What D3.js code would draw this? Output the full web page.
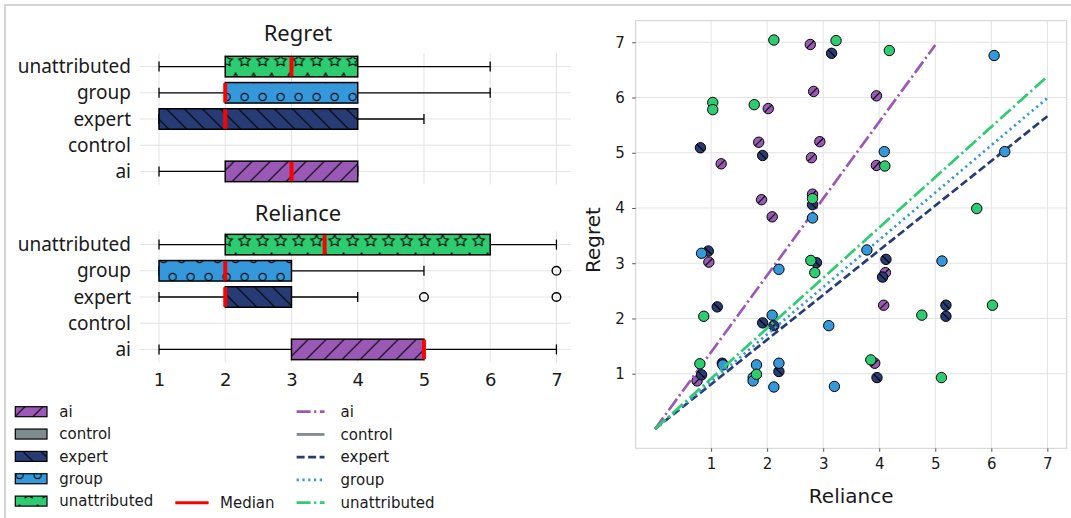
<!DOCTYPE html>
<html>
<head>
<meta charset="utf-8">
<script src="https://cdn.jsdelivr.net/npm/d3@7"></script>
<style>
body { margin: 0; background: #ffffff; }
svg { display: block; }
</style>
</head>
<body>
<script>
// ---------------- DATA ----------------
const categories = ["ai", "control", "expert", "group", "unattributed"];
const rowOrder = ["unattributed", "group", "expert", "control", "ai"];
const colors = ["#9b59b6", "#7f8c8d", "#273c75", "#3498db", "#2ecc71"];
const hatches = ["fwd", "none", "back", "circle", "star"];
const xTicks = [1, 2, 3, 4, 5, 6, 7];
const yTicks = [1, 2, 3, 4, 5, 6, 7];

// Regret box stats (ai, control, expert, group, unattributed)
const regretLow = [1, null, 1, 1, 1];
const regretQ1 = [2, null, 1, 2, 2];
const regretMedian = [3, null, 2, 2, 3];
const regretQ3 = [4, null, 4, 4, 4];
const regretHigh = [4, null, 5, 6, 6];
const regretOutliers = [[], [], [], [], []];

// Reliance box stats
const relianceLow = [1, null, 1, 1, 1];
const relianceQ1 = [3, null, 2, 1, 2];
const relianceMedian = [5, null, 2, 2, 3.5];
const relianceQ3 = [5, null, 3, 3, 6];
const relianceHigh = [7, null, 4, 5, 7];
const relianceOutliers = [[], [], [5, 7], [7], []];

// Scatter (jittered) points
const aiReliance = [2.77, 2.83, 2.02, 1.85, 2.94, 2.79, 1.18, 1.90, 2.81, 2.09, 3.95, 3.95, 0.96, 0.75, 4.11, 4.08, 3.92];
const aiRegret   = [6.96, 6.11, 5.80, 5.19, 5.20, 4.91, 4.80, 4.15, 4.25, 3.84, 6.03, 4.77, 3.02, 0.87, 2.83, 2.24, 1.19];
const controlReliance = [];
const controlRegret = [];
const expertReliance = [3.15, 0.81, 1.92, 2.81, 0.95, 2.88, 1.11, 1.92, 2.12, 1.20, 0.83, 2.21, 4.12, 4.06, 5.19, 5.19, 3.96];
const expertRegret   = [6.80, 5.09, 4.95, 4.06, 3.22, 3.01, 2.21, 1.92, 1.87, 1.19, 0.98, 1.04, 3.07, 2.75, 2.24, 2.04, 0.93];
const groupReliance = [2.81, 6.05, 4.09, 6.24, 0.83, 2.21, 2.09, 3.10, 1.21, 1.81, 1.75, 1.75, 2.21, 2.12, 3.20, 3.78, 5.12];
const groupRegret   = [3.82, 6.76, 5.02, 5.02, 3.18, 2.89, 2.06, 1.87, 1.16, 1.16, 0.93, 0.87, 1.19, 0.76, 0.77, 3.24, 3.04];
const unattributedReliance = [2.12, 3.23, 1.03, 1.03, 1.77, 2.81, 4.18, 4.10, 5.74, 2.78, 2.85, 0.87, 0.80, 1.81, 4.76, 6.02, 3.85, 5.11];
const unattributedRegret   = [7.04, 7.03, 5.91, 5.78, 5.87, 4.17, 6.85, 4.76, 3.99, 3.05, 2.83, 2.04, 1.18, 0.99, 2.06, 2.24, 1.25, 0.93];

// Fitted lines through origin: end points
const lineEndX = [5, null, 7, 7, 7];
const lineEndY = [6.95, null, 5.66, 5.99, 6.38];
const lineDash = ["14,3.5,2.2,3.5", null, "8,3.5", "2.2,3.6", "14,3.5,2.2,3.5"];

const scatterX = [aiReliance, controlReliance, expertReliance, groupReliance, unattributedReliance];
const scatterY = [aiRegret, controlRegret, expertRegret, groupRegret, unattributedRegret];

// ---------------- SETUP ----------------
const W = 1071, H = 518;
const svg = d3.select("body").append("svg").attr("width", W).attr("height", H);
const TXT = "#1a1a1a";
const GRID = "#e3e3e3";
const LBLFONT = "'Noto Sans', 'Open Sans', sans-serif";
const NUMFONT = "'DejaVu Sans', sans-serif";

// Hatch patterns (aligned to page, like matplotlib)
const defs = svg.append("defs");
const S = 18;
const px0 = 10.6, py0 = 25;
defs.append("pattern").attr("id", "hatch-fwd").attr("patternUnits", "userSpaceOnUse")
  .attr("width", S).attr("height", S).attr("x", px0).attr("y", py0)
  .append("path").attr("d", `M0,${S} L${S},0 M-3,3 L3,-3 M${S-3},${S+3} L${S+3},${S-3}`)
  .attr("stroke", "#000").attr("stroke-width", 1.1);
defs.append("pattern").attr("id", "hatch-back").attr("patternUnits", "userSpaceOnUse")
  .attr("width", S).attr("height", S).attr("x", px0).attr("y", py0)
  .append("path").attr("d", `M0,0 L${S},${S} M-3,${S-3} L3,${S+3} M${S-3},-3 L${S+3},3`)
  .attr("stroke", "#000").attr("stroke-width", 1.1);
const pc = defs.append("pattern").attr("id", "hatch-circle").attr("patternUnits", "userSpaceOnUse")
  .attr("width", S).attr("height", 2 * S).attr("x", px0).attr("y", py0);
[[0, 0], [S, 0], [0, 2 * S], [S, 2 * S], [S / 2, S]].forEach(([cx, cy]) => {
  pc.append("circle").attr("cx", cx).attr("cy", cy).attr("r", 3.6)
    .attr("fill", "none").attr("stroke", "#000").attr("stroke-width", 1.1);
});
function starPath(cx, cy, R, r) {
  const pts = [];
  for (let i = 0; i < 10; i++) {
    const rad = i % 2 === 0 ? R : r;
    const a = -Math.PI / 2 + i * Math.PI / 5;
    pts.push([cx + rad * Math.cos(a), cy + rad * Math.sin(a)]);
  }
  return "M" + pts.map(p => p[0].toFixed(2) + "," + p[1].toFixed(2)).join("L") + "Z";
}
const ps = defs.append("pattern").attr("id", "hatch-star").attr("patternUnits", "userSpaceOnUse")
  .attr("width", S).attr("height", 2 * S).attr("x", px0).attr("y", py0);
[[0, 0], [S, 0], [0, 2 * S], [S, 2 * S], [S / 2, S]].forEach(([cx, cy]) => {
  ps.append("path").attr("d", starPath(cx, cy, 6, 3))
    .attr("fill", "none").attr("stroke", "#000").attr("stroke-width", 1.1);
});
function hatchFill(h) { return h === "none" ? "none" : `url(#hatch-${h})`; }

// Figure border
svg.append("path").attr("d", `M5,${H} L5,5 L${W},5`).attr("fill", "none")
  .attr("stroke", "#d4d4d4").attr("stroke-width", 2);

// ---------------- BOX PLOTS ----------------
const xBox = d3.scaleLinear().domain([0.713, 7.22]).range([140, 571]);

function drawBoxPanel(opts) {
  const g = svg.append("g");
  const y = d3.scalePoint().domain(rowOrder).range([opts.top, opts.bottom]).padding(0.5);
  const boxH = 20.5;
  g.selectAll(".vg").data(xTicks).join("line")
    .attr("x1", d => xBox(d)).attr("x2", d => xBox(d))
    .attr("y1", opts.top).attr("y2", opts.bottom)
    .attr("stroke", GRID).attr("stroke-width", 1);
  g.selectAll(".hg").data(rowOrder).join("line")
    .attr("x1", xBox.range()[0]).attr("x2", xBox.range()[1])
    .attr("y1", d => y(d)).attr("y2", d => y(d))
    .attr("stroke", GRID).attr("stroke-width", 1);
  g.selectAll(".yl").data(rowOrder).join("text")
    .attr("x", 131).attr("y", d => y(d)).attr("dy", "0.35em")
    .attr("text-anchor", "end").attr("font-family", LBLFONT).attr("font-size", 19)
    .attr("fill", TXT).text(d => d);
  g.append("text").attr("x", 298).attr("y", opts.titleY).attr("text-anchor", "middle")
    .attr("font-family", LBLFONT).attr("font-size", 22).attr("fill", TXT).text(opts.title);

  categories.forEach((c, i) => {
    if (opts.q1[i] === null) return;
    const cy = y(c);
    g.append("line").attr("x1", xBox(opts.low[i])).attr("x2", xBox(opts.q1[i]))
      .attr("y1", cy).attr("y2", cy).attr("stroke", "#000").attr("stroke-width", 1.3);
    g.append("line").attr("x1", xBox(opts.q3[i])).attr("x2", xBox(opts.high[i]))
      .attr("y1", cy).attr("y2", cy).attr("stroke", "#000").attr("stroke-width", 1.3);
    [opts.low[i], opts.high[i]].forEach(v => {
      g.append("line").attr("x1", xBox(v)).attr("x2", xBox(v))
        .attr("y1", cy - 5).attr("y2", cy + 5).attr("stroke", "#000").attr("stroke-width", 1.3);
    });
    const bx = xBox(opts.q1[i]), bw = xBox(opts.q3[i]) - xBox(opts.q1[i]);
    g.append("rect").attr("x", bx).attr("y", cy - boxH / 2).attr("width", bw).attr("height", boxH)
      .attr("fill", colors[i]);
    g.append("rect").attr("x", bx).attr("y", cy - boxH / 2).attr("width", bw).attr("height", boxH)
      .attr("fill", hatchFill(hatches[i]));
    g.append("rect").attr("x", bx).attr("y", cy - boxH / 2).attr("width", bw).attr("height", boxH)
      .attr("fill", "none").attr("stroke", "#000").attr("stroke-width", 1.5);
    g.append("line").attr("x1", xBox(opts.med[i])).attr("x2", xBox(opts.med[i]))
      .attr("y1", cy - boxH / 2 + 0.5).attr("y2", cy + boxH / 2 - 0.5)
      .attr("stroke", "#ff0000").attr("stroke-width", 4);
    g.selectAll(null).data(opts.out[i]).join("circle")
      .attr("cx", d => xBox(d)).attr("cy", cy).attr("r", 4.3)
      .attr("fill", "none").attr("stroke", "#000").attr("stroke-width", 1.4);
  });

  if (opts.xAxis) {
    const ax = g.append("g").attr("transform", `translate(0,${opts.bottom})`)
      .call(d3.axisBottom(xBox).tickValues(xTicks).tickSize(0).tickPadding(10.5).tickFormat(d3.format("d")));
    ax.select(".domain").remove();
    ax.selectAll("text").attr("font-family", NUMFONT).attr("font-size", 18).attr("fill", TXT);
  }
}

drawBoxPanel({ top: 53.5, bottom: 184.5, title: "Regret", titleY: 41,
  low: regretLow, q1: regretQ1, med: regretMedian, q3: regretQ3, high: regretHigh, out: regretOutliers, xAxis: false });
drawBoxPanel({ top: 231.5, bottom: 362.5, title: "Reliance", titleY: 221,
  low: relianceLow, q1: relianceQ1, med: relianceMedian, q3: relianceQ3, high: relianceHigh, out: relianceOutliers, xAxis: true });

// ---------------- LEGENDS ----------------
const legL = svg.append("g");
categories.forEach((c, i) => {
  const cy = 411.7 + i * 22.35;
  [colors[i], hatchFill(hatches[i])].forEach(f => {
    legL.append("rect").attr("x", 15.3).attr("y", cy - 5).attr("width", 31.7).attr("height", 10).attr("fill", f);
  });
  legL.append("rect").attr("x", 15.3).attr("y", cy - 5).attr("width", 31.7).attr("height", 10)
    .attr("fill", "none").attr("stroke", "#000").attr("stroke-width", 1.2);
  legL.append("text").attr("x", 59.3).attr("y", cy).attr("dy", "0.35em")
    .attr("font-family", NUMFONT).attr("font-size", 15).attr("fill", TXT).text(c);
});
legL.append("line").attr("x1", 175.3).attr("x2", 208.6).attr("y1", 502.7).attr("y2", 502.7)
  .attr("stroke", "#ff0000").attr("stroke-width", 3);
legL.append("text").attr("x", 220).attr("y", 502.7).attr("dy", "0.35em")
  .attr("font-family", NUMFONT).attr("font-size", 15).attr("fill", TXT).text("Median");

const legR = svg.append("g");
categories.forEach((c, i) => {
  const cy = 411.7 + i * 22.75;
  legR.append("line").attr("x1", 296.6).attr("x2", 324.5).attr("y1", cy).attr("y2", cy)
    .attr("stroke", colors[i]).attr("stroke-width", 2.8)
    .attr("stroke-dasharray", lineDash[i] === null ? null : lineDash[i]);
  legR.append("text").attr("x", 340.6).attr("y", cy).attr("dy", "0.35em")
    .attr("font-family", NUMFONT).attr("font-size", 15).attr("fill", TXT).text(c);
});

// ---------------- SCATTER ----------------
const xs = d3.scaleLinear().domain([-0.345, 7.345]).range([635.7, 1066.7]);
const ys = d3.scaleLinear().domain([-0.35, 7.39]).range([448.3, 20.7]);
const sc = svg.append("g");
sc.selectAll(".gx").data(xTicks).join("line")
  .attr("x1", d => xs(d)).attr("x2", d => xs(d)).attr("y1", ys.range()[1]).attr("y2", ys.range()[0])
  .attr("stroke", GRID).attr("stroke-width", 1);
sc.selectAll(".gy").data(yTicks).join("line")
  .attr("y1", d => ys(d)).attr("y2", d => ys(d)).attr("x1", xs.range()[0]).attr("x2", xs.range()[1])
  .attr("stroke", GRID).attr("stroke-width", 1);
sc.append("rect").attr("x", xs.range()[0]).attr("y", ys.range()[1])
  .attr("width", xs.range()[1] - xs.range()[0]).attr("height", ys.range()[0] - ys.range()[1])
  .attr("fill", "none").attr("stroke", "#d0d0d0").attr("stroke-width", 1);

const axX = sc.append("g").attr("transform", `translate(0,${ys.range()[0]})`)
  .call(d3.axisBottom(xs).tickValues(xTicks).tickSize(3.5).tickPadding(7).tickFormat(d3.format("d")));
const axY = sc.append("g").attr("transform", `translate(${xs.range()[0]},0)`)
  .call(d3.axisLeft(ys).tickValues(yTicks).tickSize(3.5).tickPadding(7.5).tickFormat(d3.format("d")));
[axX, axY].forEach(a => {
  a.select(".domain").remove();
  a.selectAll("line").attr("stroke", "#555");
  a.selectAll("text").attr("font-family", NUMFONT).attr("font-size", 15).attr("fill", TXT);
});

categories.forEach((c, i) => {
  const xv = scatterX[i], yv = scatterY[i];
  const pts = xv.map((v, k) => [v, yv[k]]);
  const gg = sc.append("g");
  gg.selectAll("circle").data(pts).join("circle")
    .attr("cx", d => xs(d[0])).attr("cy", d => ys(d[1])).attr("r", 5.2)
    .attr("fill", colors[i]).attr("stroke", "#000").attr("stroke-width", 1);
  if (hatches[i] === "fwd" || hatches[i] === "back") {
    const s = hatches[i] === "fwd" ? -1 : 1;
    gg.selectAll("line").data(pts).join("line")
      .attr("x1", d => xs(d[0]) - 3.4).attr("y1", d => ys(d[1]) - s * 3.4)
      .attr("x2", d => xs(d[0]) + 3.4).attr("y2", d => ys(d[1]) + s * 3.4)
      .attr("stroke", "#000").attr("stroke-width", 1.2);
  }
  if (lineEndX[i] !== null) {
    sc.append("line").attr("x1", xs(0)).attr("y1", ys(0))
      .attr("x2", xs(lineEndX[i])).attr("y2", ys(lineEndY[i]))
      .attr("stroke", colors[i]).attr("stroke-width", 2.7).attr("stroke-dasharray", lineDash[i]);
  }
});

sc.append("text").attr("x", (xs.range()[0] + xs.range()[1]) / 2).attr("y", 503)
  .attr("text-anchor", "middle").attr("font-family", NUMFONT).attr("font-size", 20)
  .attr("fill", TXT).text("Reliance");
sc.append("text").attr("transform", `translate(600,240) rotate(-90)`)
  .attr("text-anchor", "middle").attr("font-family", NUMFONT).attr("font-size", 20)
  .attr("fill", TXT).text("Regret");
</script>
</body>
</html>
